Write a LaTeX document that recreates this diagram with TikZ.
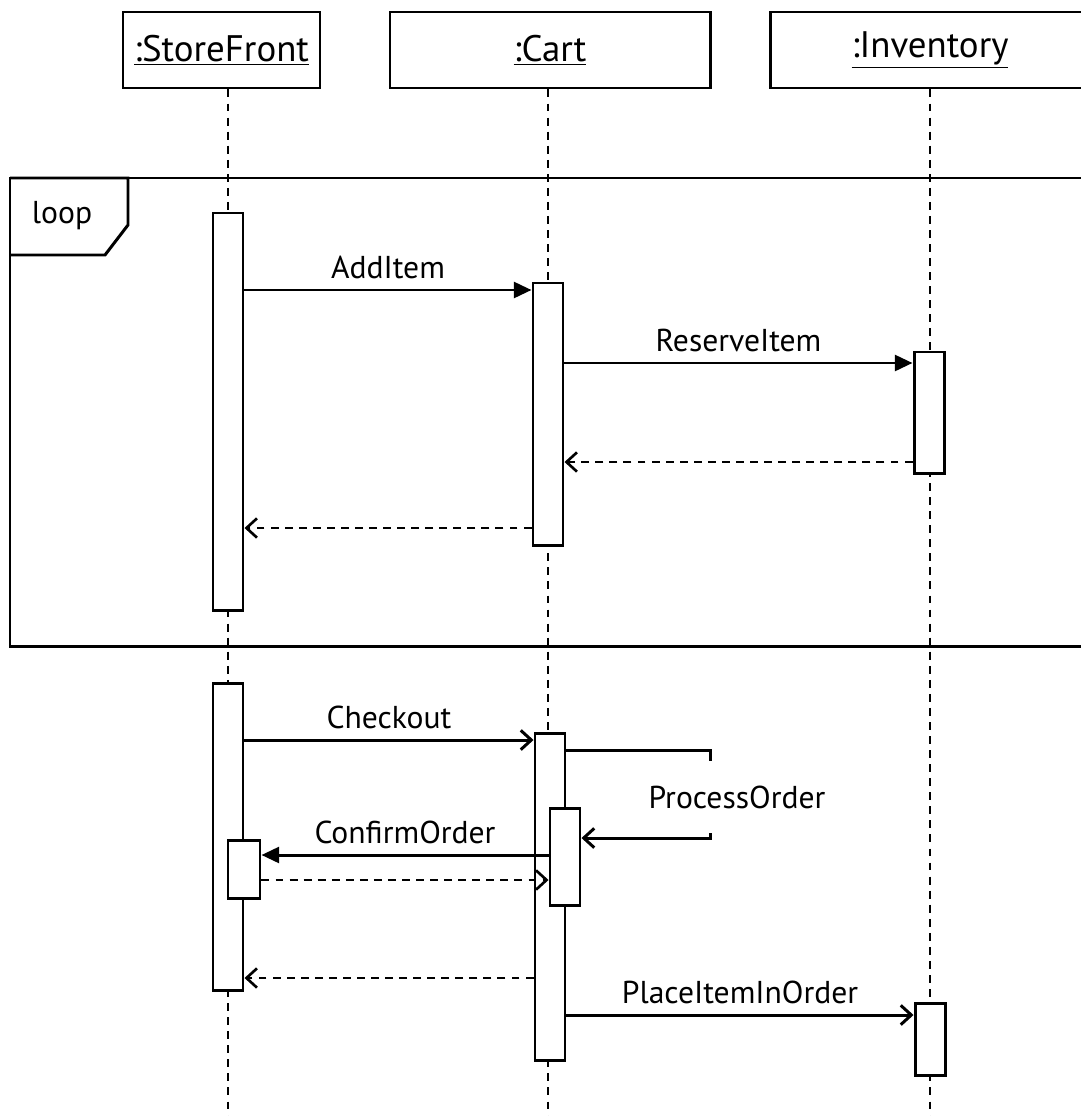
\documentclass[tikz,border=0pt]{standalone}
\usepackage{fontspec}
\setmainfont{PT Sans}
\usetikzlibrary{arrows.meta,positioning,calc}

\begin{document}
\begin{tikzpicture}[x=0.02cm,y=-0.02cm,line width=1.7pt,
  obj/.style={draw,fill=white,minimum height=76*0.02cm,inner sep=0pt,font=\fontsize{21}{25}\selectfont},
  act/.style={draw,fill=white,minimum width=30*0.02cm,minimum height=#1*0.02cm,inner sep=0pt},
  life/.style={line width=1.5pt,dash pattern=on 4.5pt off 3.5pt},
  call/.style={-{Triangle[length=10pt,width=9pt]}},
  ocall/.style={-{Straight Barb[length=6pt,width=11pt]}},
  back/.style={life,-{Straight Barb[length=6pt,width=11pt]}},
  lbl/.style={font=\fontsize{18}{22}\selectfont,above=2pt}]
\useasboundingbox (0,0) rectangle (1080,1116);

% objects
\node[obj,minimum width=197*0.02cm] (sf) at (221.5,50) {\underline{:StoreFront}};
\node[obj,minimum width=320*0.02cm] (ct) at (550,50) {\underline{:Cart}};
\node[obj,minimum width=320*0.02cm] (inv) at (930,50) {\underline{:Inventory}};

% lifelines
\coordinate (sfend) at (228,1116);
\coordinate (ctend) at (548,1116);
\coordinate (invend) at (930,1116);
\draw[life] (sf.south -| sfend) -- (sfend);
\draw[life] (ct.south -| ctend) -- (ctend);
\draw[life] (inv.south -| invend) -- (invend);

% loop frame
\draw (10,178) rectangle (1100,646);
\draw (10,178) -- (128,178) -- (128,225) -- (105,255) -- (10,255);
\node[font=\fontsize{18}{22}\selectfont] (looplbl) at (62,216) {loop};

% activations
\node[act=397] (sf1) at (228,411.5) {};
\node[act=262] (ct1) at (548,414) {};
\node[act=121] (inv1) at (929,412.5) {};
\node[act=307] (sf2) at (228,836.5) {};
\node[act=58,minimum width=32*0.02cm] (sf3) at (244,869) {};
\node[act=327] (ct2) at (550,896.5) {};
\node[act=97] (ct3) at (565,856.5) {};
\node[act=72] (inv2) at (930,1039) {};

% messages
\coordinate (m1) at (0,290);
\coordinate (m2) at (0,363);
\coordinate (m3) at (0,462);
\coordinate (m4) at (0,528);
\coordinate (m5) at (0,740);
\coordinate (m6) at (0,750);
\coordinate (m7) at (0,838);
\coordinate (m8) at (0,855);
\coordinate (m9) at (0,880);
\coordinate (m10) at (0,978);
\coordinate (m11) at (0,1015);

\draw[call] (sf1.east |- m1) -- node[lbl] {AddItem} (ct1.west |- m1);
\draw[call] (ct1.east |- m2) -- node[lbl] {ReserveItem} (inv1.west |- m2);
\draw[back] (inv1.west |- m3) -- (ct1.east |- m3);
\draw[back] (ct1.west |- m4) -- (sf1.east |- m4);

\draw[ocall] (sf2.east |- m5) -- node[lbl] {Checkout} (ct2.west |- m5);
\coordinate (po) at (710,0);
\draw[ocall] (ct2.east |- m6) -- (po |- m6) -- (po |- m7) -- (ct3.east |- m7);
\node[fill=white,font=\fontsize{18}{22}\selectfont,inner xsep=1pt,inner ysep=14pt] (polbl) at (737,797) {ProcessOrder};
\draw[call] (ct3.west |- m8) -- node[lbl] {ConfirmOrder} (sf3.east |- m8);
\draw[back] (sf3.east |- m9) -- (ct3.west |- m9);
\draw[back] (ct2.west |- m10) -- (sf2.east |- m10);
\draw[ocall] (ct2.east |- m11) -- node[lbl] {PlaceItemInOrder} (inv2.west |- m11);

\end{tikzpicture}
\end{document}
